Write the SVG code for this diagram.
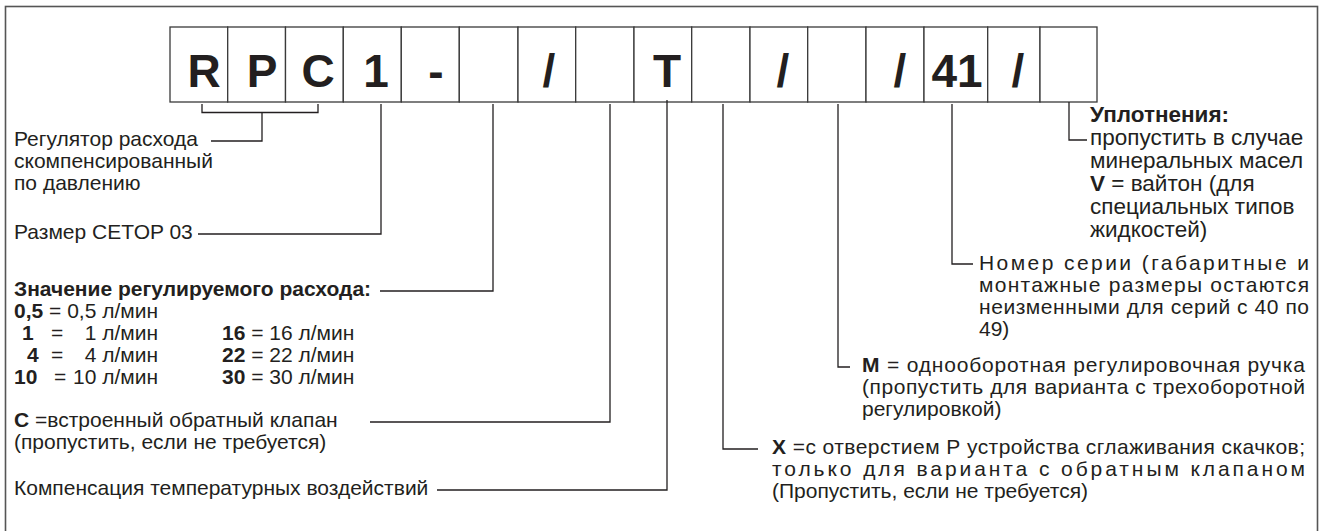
<svg xmlns="http://www.w3.org/2000/svg" width="1325" height="531" viewBox="0 0 1325 531">
<style>
.t{font-family:"Liberation Sans",Arial,Helvetica,sans-serif;font-size:21px;fill:#231f20}
.s{font-size:22.5px}
.b{font-weight:bold}
.big{font-family:"Liberation Sans",Arial,Helvetica,sans-serif;font-size:46px;font-weight:bold;fill:#231f20;text-anchor:middle}
.box{fill:#fff;stroke:#3a3a3a;stroke-width:1.3}
.ln{fill:none;stroke:#231f20;stroke-width:1.3}
.frame{fill:none;stroke:#555;stroke-width:1.6}
</style>
<rect x="0" y="0" width="1325" height="531" fill="#fff"/>
<rect class="frame" x="5.5" y="6.5" width="1312" height="540"/>

<g id="code">
  <g id="box-R"><rect class="box" x="170" y="27" width="57.7" height="75"/><text class="big" x="204" y="87">R</text></g>
  <g id="box-P"><rect class="box" x="227.7" y="27" width="57.8" height="75"/><text class="big" x="262" y="87">P</text></g>
  <g id="box-C"><rect class="box" x="285.5" y="27" width="57.8" height="75"/><text class="big" x="318" y="87">C</text></g>
  <g id="box-1"><rect class="box" x="343.3" y="27" width="58" height="75"/><text class="big" x="376" y="87">1</text></g>
  <g id="box-dash"><rect class="box" x="401.3" y="27" width="58" height="75"/><text class="big" x="436" y="87">-</text></g>
  <g id="box-flow"><rect class="box" x="459.3" y="27" width="58.7" height="75"/></g>
  <g id="box-slash1"><rect class="box" x="518" y="27" width="57.7" height="75"/><text class="big" x="549" y="87">/</text></g>
  <g id="box-check"><rect class="box" x="575.7" y="27" width="58.3" height="75"/></g>
  <g id="box-T"><rect class="box" x="634" y="27" width="57.7" height="75"/><text class="big" x="667" y="87">T</text></g>
  <g id="box-X"><rect class="box" x="691.7" y="27" width="58.3" height="75"/></g>
  <g id="box-slash2"><rect class="box" x="750" y="27" width="57.7" height="75"/><text class="big" x="783" y="87">/</text></g>
  <g id="box-M"><rect class="box" x="807.7" y="27" width="58.3" height="75"/></g>
  <g id="box-slash3"><rect class="box" x="866" y="27" width="58" height="75"/><text class="big" x="900" y="87">/</text></g>
  <g id="box-41"><rect class="box" x="924" y="27" width="63.7" height="75"/><text class="big" x="957" y="87">41</text></g>
  <g id="box-slash4"><rect class="box" x="987.7" y="27" width="52.3" height="75"/><text class="big" x="1018" y="87">/</text></g>
  <g id="box-seal"><rect class="box" x="1040" y="27" width="57" height="75"/></g>
</g>

<g id="connectors">
  <path class="ln" d="M202,104 V112.5 H318 V104 M262,112.5 V141 H211"/>
  <path class="ln" d="M381,104 V234 H198"/>
  <path class="ln" d="M493,104 V291 H380"/>
  <path class="ln" d="M610,104 V422 H370"/>
  <path class="ln" d="M667,100 V490 H437"/>
  <path class="ln" d="M723,104 V449 H758"/>
  <path class="ln" d="M838,104 V367 H850"/>
  <path class="ln" d="M952,104 V264 H973"/>
  <path class="ln" d="M1069,102 V140 H1087"/>
</g>

<g id="label-rpc">
  <text class="t" x="14" y="146">Регулятор расхода</text>
  <text class="t" x="14" y="168">скомпенсированный</text>
  <text class="t" x="14" y="190">по давлению</text>
</g>
<g id="label-size">
  <text class="t" x="14" y="239">Размер CETOP 03</text>
</g>
<g id="label-flow">
  <text class="t b" x="14" y="296">Значение регулируемого расхода:</text>
  <text class="t" x="14" y="318"><tspan class="b">0,5</tspan> = 0,5 л/мин</text>
  <text class="t b" x="22" y="340">1</text><text class="t" x="51" y="340">=</text><text class="t" x="158" y="340" text-anchor="end">1 л/мин</text>
  <text class="t b" x="27" y="362">4</text><text class="t" x="51" y="362">=</text><text class="t" x="158" y="362" text-anchor="end">4 л/мин</text>
  <text class="t b" x="14" y="384">10</text><text class="t" x="54" y="384">=</text><text class="t" x="158" y="384" text-anchor="end">10 л/мин</text>
  <text class="t" x="222" y="340"><tspan class="b">16</tspan> = 16 л/мин</text>
  <text class="t" x="222" y="362"><tspan class="b">22</tspan> = 22 л/мин</text>
  <text class="t" x="222" y="384"><tspan class="b">30</tspan> = 30 л/мин</text>
</g>
<g id="label-check">
  <text class="t" x="14" y="427"><tspan class="b">C</tspan> =встроенный обратный клапан</text>
  <text class="t" x="14" y="449">(пропустить, если не требуется)</text>
</g>
<g id="label-temp">
  <text class="t" x="14" y="495">Компенсация температурных воздействий</text>
</g>
<g id="label-seal">
  <text class="t s b" x="1090" y="122">Уплотнения:</text>
  <text class="t s" x="1090" y="145">пропустить в случае</text>
  <text class="t s" x="1090" y="168">минеральных масел</text>
  <text class="t s" x="1090" y="191"><tspan class="b">V</tspan> = вайтон (для</text>
  <text class="t s" x="1090" y="214">специальных типов</text>
  <text class="t s" x="1090" y="237">жидкостей)</text>
</g>
<g id="label-series">
  <text class="t" x="979" y="270" textLength="330" lengthAdjust="spacing">Номер серии (габаритные и</text>
  <text class="t" x="979" y="292" textLength="330" lengthAdjust="spacing">монтажные размеры остаются</text>
  <text class="t" x="979" y="314" textLength="330" lengthAdjust="spacing">неизменными для серий с 40 по</text>
  <text class="t" x="979" y="336">49)</text>
</g>
<g id="label-knob">
  <text class="t" x="862" y="372" textLength="443" lengthAdjust="spacing"><tspan class="b">M</tspan> = однооборотная регулировочная ручка</text>
  <text class="t" x="862" y="394" textLength="443" lengthAdjust="spacing">(пропустить для варианта с трехоборотной</text>
  <text class="t" x="862" y="416">регулировкой)</text>
</g>
<g id="label-x">
  <text class="t" x="772" y="454" textLength="533" lengthAdjust="spacing"><tspan class="b">X</tspan> =с отверстием Р устройства сглаживания скачков;</text>
  <text class="t" x="772" y="476" textLength="533" lengthAdjust="spacing">только для варианта с обратным клапаном</text>
  <text class="t" x="772" y="498">(Пропустить, если не требуется)</text>
</g>
</svg>
